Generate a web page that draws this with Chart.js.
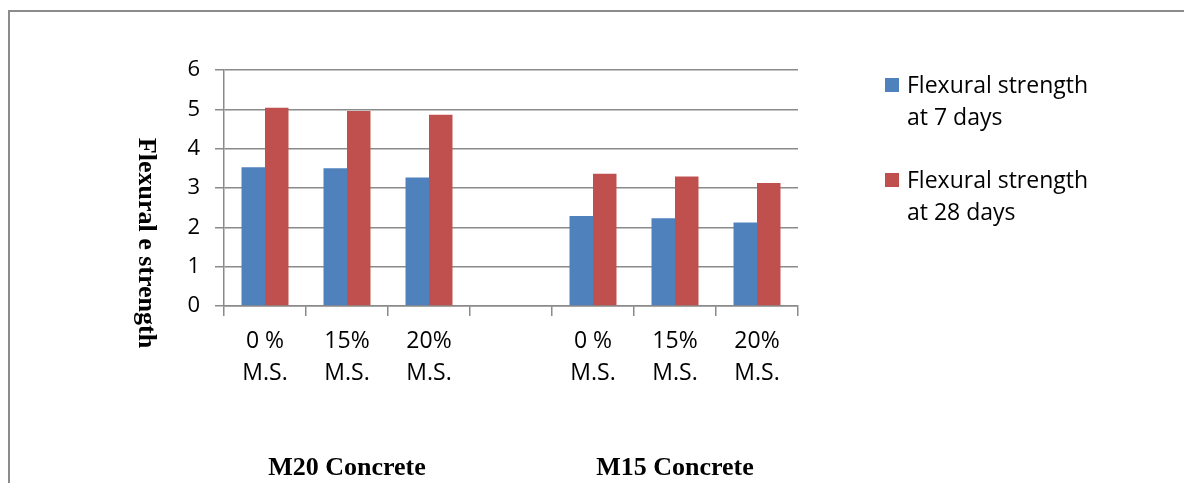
<!DOCTYPE html>
<html>
<head>
<meta charset="utf-8">
<script src="https://cdn.jsdelivr.net/npm/chart.js@4/dist/chart.umd.min.js"></script>
<style>
  html, body { margin: 0; padding: 0; background: #ffffff; }
  #wrap { width: 1184px; height: 483px; position: relative; }
</style>
</head>
<body>
<div id="wrap"><canvas id="chart" width="1184" height="483"></canvas></div>
<script>
// Mix proportions (percentage of manufactured sand), per concrete grade; the blank slot separates the grades
const categories = [['0 %', 'M.S.'], ['15%', 'M.S.'], ['20%', 'M.S.'], '', ['0 %', 'M.S.'], ['15%', 'M.S.'], ['20%', 'M.S.']];
// Flexural strength (N/mm²)
const strength7days = [3.53, 3.50, 3.27, null, 2.29, 2.23, 2.12];
const strength28days = [5.04, 4.96, 4.86, null, 3.36, 3.29, 3.13];
const seriesNames = [['Flexural strength', 'at 7 days'], ['Flexural strength', 'at 28 days']];
const gradeNames = ['M20 Concrete', 'M15 Concrete'];
const gradeRanges = [[0, 2], [4, 6]];
const yAxisTitle = 'Flexural e strength';
const yMin = 0, yMax = 6, yStep = 1;

const SANS = '"Open Sans", "Noto Sans", sans-serif';
const SERIF = '"Liberation Serif", "DejaVu Serif", serif';
const GRID = '#8a8a8a';

const decorations = {
  id: 'decorations',
  afterDraw(chart) {
    const ctx = chart.ctx;
    const x = chart.scales.x;
    ctx.save();

    // frame
    ctx.strokeStyle = '#8c8c8c';
    ctx.lineWidth = 2;
    ctx.beginPath();
    ctx.moveTo(9, 484);
    ctx.lineTo(9, 11);
    ctx.lineTo(1185, 11);
    ctx.stroke();

    // vertical axis title, reading top to bottom
    ctx.fillStyle = '#000';
    ctx.font = 'bold 26px ' + SERIF;
    ctx.textAlign = 'center';
    ctx.textBaseline = 'middle';
    ctx.translate(146, (chart.chartArea.top + chart.chartArea.bottom) / 2 + 55);
    ctx.rotate(Math.PI / 2);
    ctx.fillText(yAxisTitle, 0, 0);
    ctx.setTransform(1, 0, 0, 1, 0, 0);

    // grade names below the groups
    ctx.textBaseline = 'alphabetic';
    ctx.textAlign = 'center';
    gradeNames.forEach((name, i) => {
      const [a, b] = gradeRanges[i];
      const cx = (x.getPixelForValue(a) + x.getPixelForValue(b)) / 2;
      ctx.fillText(name, cx, 475);
    });

    // legend
    const lx = 885, baseY = [93, 188], lineGap = 32;
    chart.data.datasets.forEach((ds, i) => {
      ctx.fillStyle = ds.backgroundColor;
      ctx.fillRect(lx, baseY[i] - 15, 14, 14);
      ctx.fillStyle = '#000';
      ctx.font = '23px ' + SANS;
      ctx.textAlign = 'left';
      ds.label.forEach((line, j) => ctx.fillText(line, lx + 22, baseY[i] + j * lineGap));
    });
    ctx.restore();
  }
};

new Chart(document.getElementById('chart'), {
  type: 'bar',
  data: {
    labels: categories,
    datasets: [
      { label: seriesNames[0], data: strength7days, backgroundColor: '#4F81BD' },
      { label: seriesNames[1], data: strength28days, backgroundColor: '#C0504D' }
    ]
  },
  options: {
    responsive: false,
    devicePixelRatio: 1,
    animation: false,
    categoryPercentage: 0.573,
    barPercentage: 1.0,
    layout: { padding: { top: 70, right: 386, bottom: 0, left: 0 } },
    plugins: { legend: { display: false }, tooltip: { enabled: false } },
    scales: {
      x: {
        grid: { offset: true, drawOnChartArea: false, drawTicks: true, tickLength: 10, color: GRID, lineWidth: 1.5 },
        border: { color: GRID, width: 1.5 },
        ticks: { color: '#000', font: { family: SANS, size: 23, lineHeight: 1.38 }, padding: 10, maxRotation: 0, autoSkip: false },
        afterFit(scale) { scale.height = 177; }
      },
      y: {
        min: yMin, max: yMax,
        grid: { color: GRID, lineWidth: 1.5, tickLength: 9 },
        border: { color: GRID, width: 1.5 },
        ticks: { stepSize: yStep, color: '#000', font: { family: SANS, size: 22 }, padding: 15 },
        afterFit(scale) { scale.width = 224; }
      }
    }
  },
  plugins: [decorations]
});
</script>
</body>
</html>
